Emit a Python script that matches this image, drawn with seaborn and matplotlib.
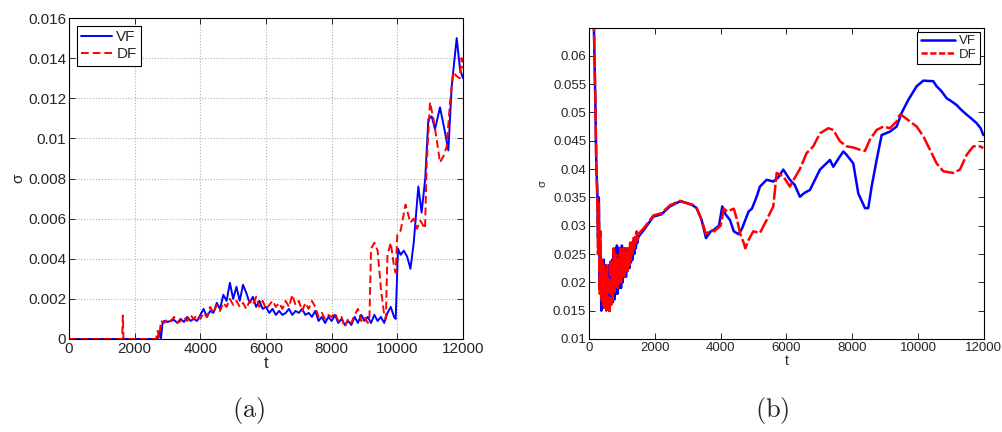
import numpy as np
import pandas as pd
import matplotlib
matplotlib.use("Agg")
import matplotlib.pyplot as plt
from matplotlib.ticker import FuncFormatter, MultipleLocator
from matplotlib.lines import Line2D
import seaborn as sns

# ---------------- panel (a) ----------------
a_vf_t = [0, 2700, 2750, 2800, 2850, 2900, 3000, 3100, 3200, 3300, 3400, 3500, 3600, 3700,
          3800, 3900, 4000, 4100, 4200, 4300, 4400, 4500, 4600, 4700, 4800, 4900, 5000,
          5100, 5200, 5300, 5400, 5500, 5600, 5700, 5800, 5900, 6000, 6100, 6200, 6300,
          6400, 6500, 6600, 6700, 6800, 6900, 7000, 7100, 7200, 7300, 7400, 7500, 7600,
          7700, 7800, 7900, 8000, 8100, 8200, 8300, 8400, 8500, 8600, 8700, 8800, 8900,
          9000, 9100, 9200, 9300, 9400, 9500, 9600, 9700, 9800, 9900, 9950, 10020, 10100,
          10200, 10300, 10400, 10500, 10640, 10740, 10850, 10945, 11047, 11148, 11300,
          11453, 11555, 11656, 11809, 11910, 12000]
a_vf_v = [0.0, 0.0, 0.0004, 0.0, 0.0008, 0.0009, 0.00085, 0.0009, 0.00095, 0.0008, 0.001,
          0.00085, 0.0011, 0.0009, 0.001, 0.0009, 0.0012, 0.0015, 0.0011, 0.0014, 0.0013,
          0.0018, 0.0015, 0.0022, 0.0019, 0.0028, 0.002, 0.0026, 0.0019, 0.0027, 0.0023,
          0.0018, 0.0021, 0.0016, 0.0019, 0.0015, 0.0016, 0.0013, 0.0015, 0.0012, 0.0014,
          0.0012, 0.0013, 0.0015, 0.0012, 0.0014, 0.0013, 0.0015, 0.0012, 0.0013, 0.0011,
          0.0014, 0.0009, 0.0011, 0.0008, 0.0011, 0.0009, 0.0012, 0.0008, 0.001, 0.0007,
          0.0009, 0.0007, 0.0011, 0.0008, 0.0012, 0.0009, 0.0011, 0.0008, 0.0012, 0.0009,
          0.0011, 0.0008, 0.0013, 0.0016, 0.0011, 0.001, 0.0045, 0.0042, 0.0044, 0.0041,
          0.0035, 0.0048, 0.0076, 0.0063, 0.008, 0.01095, 0.0111, 0.01045, 0.01155, 0.0103,
          0.0094, 0.0126, 0.015, 0.01345, 0.013]

a_df_t = [0, 1620, 1640, 1660, 2650, 2700, 2750, 2800, 2900, 3000, 3100, 3200, 3300, 3400,
          3500, 3600, 3700, 3800, 3900, 4000, 4100, 4200, 4300, 4400, 4500, 4600, 4700,
          4800, 4900, 5000, 5100, 5200, 5300, 5400, 5500, 5600, 5700, 5800, 5900, 6000,
          6100, 6200, 6300, 6400, 6500, 6600, 6700, 6800, 6900, 7000, 7100, 7200, 7300,
          7400, 7500, 7600, 7700, 7800, 7900, 8000, 8100, 8200, 8300, 8400, 8500, 8600,
          8700, 8800, 8900, 9000, 9100, 9150, 9200, 9300, 9400, 9500, 9600, 9650, 9700,
          9800, 9900, 9950, 10000, 10100, 10250, 10400, 10500, 10600, 10700, 10844, 10895,
          10996, 11097, 11199, 11300, 11401, 11504, 11605, 11706, 11808, 11900, 11960, 12000]
a_df_v = [0.0, 0.0, 0.00117, 0.0, 0.0, 0.0004, 0.0001, 0.0009, 0.0008, 0.001, 0.0009, 0.0011,
          0.0008, 0.0009, 0.0011, 0.0009, 0.0012, 0.001, 0.0012, 0.001, 0.0013, 0.0011,
          0.0016, 0.0013, 0.0017, 0.0014, 0.0018, 0.0016, 0.002, 0.0017, 0.0019, 0.0016,
          0.0018, 0.0015, 0.0019, 0.0017, 0.0021, 0.0016, 0.0019, 0.0015, 0.0017, 0.0019,
          0.0016, 0.0018, 0.0015, 0.0019, 0.0016, 0.0022, 0.0017, 0.0019, 0.0014, 0.0018,
          0.0015, 0.0019, 0.0016, 0.0011, 0.0013, 0.001, 0.0012, 0.0011, 0.0013, 0.0009,
          0.0011, 0.0006, 0.001, 0.0008, 0.0012, 0.0015, 0.0009, 0.0011, 0.0008, 0.001,
          0.0045, 0.0048, 0.0044, 0.0025, 0.0012, 0.001, 0.0042, 0.0048, 0.0036, 0.0033,
          0.0052, 0.0054, 0.0067, 0.0058, 0.006, 0.0055, 0.0059, 0.0055, 0.0088, 0.0118,
          0.011, 0.00995, 0.0088, 0.0091, 0.0096, 0.0118, 0.0133, 0.0131, 0.013, 0.014,
          0.0135]

# ---------------- panel (b) ----------------
b_vf_t = [100, 150, 200, 225, 250, 275, 300, 325, 350, 375, 400, 425, 450, 475, 500, 525,
          550, 575, 600, 625, 650, 675, 700, 725, 750, 775, 800, 825, 850, 875, 900, 925,
          950, 975, 1000, 1025, 1050, 1075, 1100, 1125, 1150, 1175, 1200, 1225, 1250, 1275,
          1300, 1325, 1350, 1375, 1400, 1425, 1450, 1475, 1500, 1700, 1955, 2200, 2461,
          2765, 2967, 3150, 3272, 3424, 3555, 3700, 3800, 3950, 4050, 4150, 4284, 4400,
          4487, 4550, 4650, 4750, 4850, 4950, 5094, 5195, 5397, 5600, 5750, 5903, 6105,
          6250, 6409, 6550, 6713, 7018, 7322, 7423, 7600, 7727, 7828, 8030, 8182, 8385,
          8486, 8588, 8740, 8892, 9145, 9347, 9499, 9702, 9955, 10157, 10461, 10562, 10700,
          10866, 11000, 11170, 11300, 11474, 11600, 11778, 11900, 11980]
b_vf_v = [0.075, 0.065, 0.05, 0.04, 0.037, 0.028, 0.035, 0.02, 0.026, 0.015, 0.023, 0.0155,
          0.024, 0.016, 0.023, 0.017, 0.022, 0.016, 0.023, 0.017, 0.022, 0.017, 0.024,
          0.0165, 0.025, 0.017, 0.026, 0.018, 0.0265, 0.018, 0.026, 0.019, 0.026, 0.019,
          0.0265, 0.02, 0.026, 0.021, 0.026, 0.021, 0.025, 0.022, 0.026, 0.0225, 0.026,
          0.0235, 0.027, 0.024, 0.027, 0.025, 0.028, 0.026, 0.028, 0.027, 0.028, 0.0295,
          0.0316, 0.032, 0.0334, 0.0343, 0.034, 0.0336, 0.0331, 0.031, 0.0278, 0.029,
          0.0293, 0.03, 0.0334, 0.032, 0.031, 0.029, 0.0287, 0.0285, 0.0295, 0.031, 0.0325,
          0.033, 0.0351, 0.0369, 0.0381, 0.0378, 0.0385, 0.0399, 0.0381, 0.0372, 0.0351,
          0.0358, 0.0363, 0.0399, 0.0416, 0.0404, 0.042, 0.0431, 0.0425, 0.041, 0.0357,
          0.0331, 0.0331, 0.0369, 0.0416, 0.046, 0.0466, 0.0475, 0.0499, 0.0522, 0.0546,
          0.0556, 0.0555, 0.0546, 0.0538, 0.0525, 0.052, 0.0513, 0.0505, 0.0496, 0.049,
          0.0481, 0.0472, 0.046]

b_df_t = [100, 150, 200, 225, 250, 275, 300, 325, 350, 375, 400, 425, 450, 475, 500, 525,
          550, 575, 600, 625, 650, 675, 700, 725, 750, 775, 800, 825, 850, 875, 900, 925,
          950, 975, 1000, 1025, 1050, 1075, 1100, 1125, 1150, 1175, 1200, 1225, 1250, 1275,
          1300, 1325, 1350, 1375, 1400, 1425, 1450, 1475, 1500, 1700, 1955, 2200, 2461,
          2765, 2967, 3150, 3272, 3424, 3555, 3700, 3800, 3900, 4000, 4100, 4200, 4400,
          4500, 4600, 4700, 4750, 4850, 4992, 5195, 5397, 5600, 5702, 5903, 6105, 6206,
          6307, 6409, 6611, 6814, 7018, 7271, 7423, 7625, 7828, 8030, 8232, 8385, 8537,
          8740, 8943, 9145, 9347, 9448, 9550, 9752, 9955, 10157, 10360, 10562, 10765,
          11069, 11271, 11474, 11676, 11879, 11980]
b_df_v = [0.078, 0.066, 0.05, 0.04, 0.035, 0.025, 0.034, 0.018, 0.029, 0.017, 0.024, 0.016,
          0.023, 0.0155, 0.022, 0.015, 0.023, 0.0148, 0.021, 0.0145, 0.024, 0.016, 0.023,
          0.017, 0.026, 0.018, 0.025, 0.019, 0.024, 0.019, 0.025, 0.02, 0.026, 0.02, 0.025,
          0.021, 0.026, 0.021, 0.025, 0.022, 0.026, 0.022, 0.026, 0.023, 0.027, 0.024,
          0.027, 0.025, 0.028, 0.026, 0.028, 0.027, 0.029, 0.0275, 0.0285, 0.0298, 0.0318,
          0.0322, 0.0336, 0.0344, 0.034, 0.0337, 0.0331, 0.031, 0.0285, 0.0292, 0.029,
          0.0295, 0.03, 0.033, 0.0325, 0.033, 0.031, 0.0285, 0.027, 0.026, 0.0275, 0.029,
          0.0287, 0.031, 0.0334, 0.0393, 0.0387, 0.0369, 0.038, 0.039, 0.04, 0.0428, 0.044,
          0.0463, 0.0472, 0.0469, 0.0449, 0.044, 0.0438, 0.0434, 0.0432, 0.0452, 0.0469,
          0.0475, 0.0472, 0.0484, 0.0496, 0.0493, 0.0484, 0.0475, 0.0458, 0.0434, 0.041,
          0.0396, 0.0393, 0.0399, 0.0425, 0.044, 0.044, 0.0437]

sns.set_style("ticks")
plt.rcParams["font.family"] = ["Liberation Sans", "DejaVu Sans"]
plt.rcParams["mathtext.fontset"] = "cm"

fig = plt.figure(figsize=(10.03, 4.32), dpi=100)
ax_a = fig.add_axes([0.0688, 0.2153, 0.3928, 0.743])
ax_b = fig.add_axes([0.5872, 0.2153, 0.3938, 0.72])

BLUE = "#0000ff"
RED = "#ff0000"


def draw(ax, t_vf, v_vf, t_df, v_df, lw, dash):
    dvf = pd.DataFrame({"t": t_vf, "sigma": v_vf})
    ddf = pd.DataFrame({"t": t_df, "sigma": v_df})
    sns.lineplot(data=dvf, x="t", y="sigma", ax=ax, color=BLUE, lw=lw,
                 estimator=None, sort=False, legend=False)
    sns.lineplot(data=ddf, x="t", y="sigma", ax=ax, color=RED, lw=lw,
                 estimator=None, sort=False, legend=False)
    ax.lines[1].set_linestyle(dash)


def key(dash, lw):
    return [Line2D([], [], color=BLUE, lw=lw),
            Line2D([], [], color=RED, lw=lw, linestyle=dash)]


fmt = FuncFormatter(lambda v, p: "%g" % round(v, 6))

# panel (a)
dash_a = (0, (4, 2))
draw(ax_a, a_vf_t, a_vf_v, a_df_t, a_df_v, 1.4, dash_a)
ax_a.set_xlim(0, 12000)
ax_a.set_ylim(0, 0.016)
ax_a.xaxis.set_major_locator(MultipleLocator(2000))
ax_a.yaxis.set_major_locator(MultipleLocator(0.002))
ax_a.yaxis.set_major_formatter(fmt)
ax_a.grid(True, color="#b0b0b0", linestyle=":", linewidth=0.8)
ax_a.tick_params(direction="in", top=True, right=True, labelsize=11, length=4,
                 width=0.7, pad=2)
ax_a.set_xlabel("t", fontsize=12, labelpad=0)
ax_a.set_ylabel("σ", fontsize=11, labelpad=2)
leg_a = ax_a.legend(key(dash_a, 1.4), ["VF", "DF"], loc="upper left", fontsize=11,
                    fancybox=False, framealpha=1, edgecolor="black",
                    handlelength=2.0, handletextpad=0.3, borderaxespad=0.5,
                    borderpad=0.3, labelspacing=0.2)
leg_a.get_frame().set_linewidth(0.8)

# panel (b)
dash_b = (0, (6, 1.2))
draw(ax_b, b_vf_t, b_vf_v, b_df_t, b_df_v, 1.8, dash_b)
ax_b.set_xlim(0, 12000)
ax_b.set_ylim(0.01, 0.0649)
ax_b.xaxis.set_major_locator(MultipleLocator(2000))
ax_b.yaxis.set_major_locator(MultipleLocator(0.005))
ax_b.yaxis.set_major_formatter(fmt)
ax_b.tick_params(direction="in", top=True, right=True, labelsize=9.5, length=4,
                 width=0.7, pad=2)
ax_b.set_xlabel("t", fontsize=10, labelpad=0)
ax_b.set_ylabel("σ", fontsize=8, labelpad=4)
leg_b = ax_b.legend(key((0, (2.5, 1)), 1.8), ["VF", "DF"], loc="upper right",
                    fontsize=9.5, fancybox=False, framealpha=1, edgecolor="black",
                    handlelength=2.6, handletextpad=0.3, borderaxespad=0.3,
                    borderpad=0.25, labelspacing=0.1)
leg_b.get_frame().set_linewidth(0.8)

for ax in (ax_a, ax_b):
    for s in ax.spines.values():
        s.set_visible(True)
        s.set_linewidth(0.8)
        s.set_color("black")

fig.text(0.2473, 0.05, r"$\mathrm{(a)}$", ha="center", va="center", fontsize=19)
fig.text(0.7697, 0.05, r"$\mathrm{(b)}$", ha="center", va="center", fontsize=19)

fig.savefig("out.png", dpi=100, facecolor="white")
